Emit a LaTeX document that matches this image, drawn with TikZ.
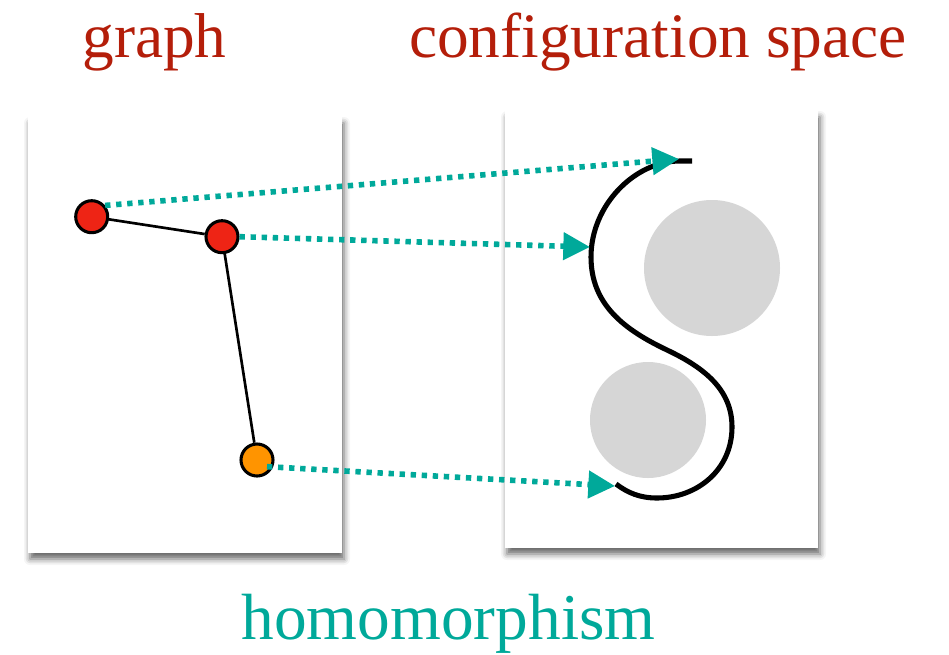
\documentclass[tikz,border=0pt]{standalone}
\usepackage{fontspec}
\setmainfont{Liberation Serif}
\usetikzlibrary{arrows.meta,shadows.blur}
\definecolor{titlered}{HTML}{B41E0A}
\definecolor{teal}{HTML}{00A99A}
\definecolor{nodered}{HTML}{EE2415}
\definecolor{nodeorange}{HTML}{FF9400}
\definecolor{obst}{HTML}{D6D6D6}
\tikzset{
  panel/.style={fill=white, blur shadow={shadow xshift=1.5pt, shadow yshift=-4.5pt, shadow blur radius=4.5pt, shadow opacity=60}},
  vtx/.style={circle, draw=black, line width=2.3pt, minimum size=24pt, inner sep=0pt},
  edgeline/.style={line width=2pt, black},
  maparrow/.style={teal, line width=4.2pt, dash pattern=on 4pt off 4.3pt, -{Triangle[length=20pt,width=20pt]}},
  title/.style={titlered, font=\fontsize{47.5}{50}\selectfont, anchor=base},
  pathline/.style={line width=3.8pt, black}
}
\begin{document}
\begin{tikzpicture}[x=0.75pt,y=-0.75pt]
\useasboundingbox (0,0) rectangle (949,654);
% titles
\node[title] (tg) at (154.5,57) {graph};
\node[title] (tc) at (658,57) {configuration space};
\node[teal, font=\fontsize{49}{52}\selectfont, anchor=base] (th) at (448.5,639) {homomorphism};
% panels
\path[panel] (28,117) rectangle (342,553);
\path[panel] (505,111) rectangle (818,548);
% obstacles
\fill[obst] (712,268) circle (68);
\fill[obst] (648,420) circle (58);
% path in configuration space
\draw[pathline] (692,161) -- (680,161) .. controls (635,161) and (591,205) .. (591,257)
  .. controls (591,305) and (625,330) .. (667,350)
  .. controls (705,368) and (732,390) .. (732,427)
  .. controls (732,470) and (697,498) .. (657,498)
  .. controls (640,498) and (628,493) .. (616,484);
\coordinate (t1) at (679,159);
\coordinate (t2) at (590,247);
\coordinate (t3) at (615,486);
% graph
\node[vtx, fill=nodered] (A) at (91.7,216.7) {};
\node[vtx, fill=nodered] (B) at (222,236.7) {};
\node[vtx, fill=nodeorange] (C) at (257,460) {};
\draw[edgeline] (A) -- (B);
\draw[edgeline] (B) -- (C);
% maps
\draw[maparrow] (A.40) -- (t1);
\draw[maparrow] (B.east) -- (t2);
\draw[maparrow] ([xshift=7.5pt,yshift=-5pt]C.center) -- (t3);
\end{tikzpicture}
\end{document}
